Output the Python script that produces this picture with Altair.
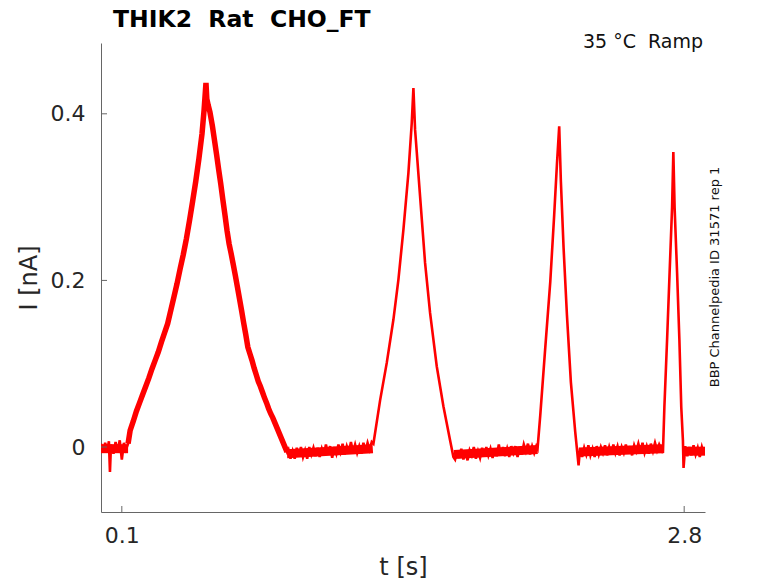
import altair as alt
import pandas as pd

# ---- trace (time in s, current in nA) ----
t_base1 = [0.0, 0.01, 0.02, 0.03, 0.038, 0.043, 0.048, 0.06, 0.07, 0.08, 0.09, 0.10, 0.11, 0.12, 0.13]
i_base1 = [0.004, -0.006, 0.005, -0.004, 0.007, -0.030, 0.003, -0.008, 0.006, -0.005, 0.008, -0.015, 0.005, -0.003, 0.004]

t_rise1 = [0.14, 0.155, 0.17, 0.185, 0.20, 0.215, 0.23, 0.245, 0.26, 0.275, 0.29, 0.305, 0.32, 0.335,
           0.35, 0.365, 0.38, 0.395, 0.41, 0.425, 0.44, 0.455, 0.47, 0.485, 0.495, 0.504]
i_rise1 = [0.020, 0.031, 0.043, 0.053, 0.063, 0.073, 0.083, 0.094, 0.104, 0.114, 0.126, 0.137, 0.148, 0.164,
           0.180, 0.196, 0.214, 0.231, 0.250, 0.272, 0.295, 0.319, 0.346, 0.376, 0.405, 0.437]

t_fall1 = [0.508, 0.515, 0.523, 0.535, 0.545, 0.555, 0.565, 0.575, 0.585, 0.595, 0.605, 0.615,
           0.625, 0.635, 0.645, 0.655, 0.665, 0.675, 0.685, 0.695, 0.705, 0.715, 0.725, 0.735, 0.745, 0.755,
           0.765, 0.775, 0.785, 0.795, 0.805, 0.815, 0.825, 0.835, 0.845, 0.855, 0.865, 0.875, 0.885, 0.893]
i_fall1 = [0.418, 0.410, 0.402, 0.385, 0.368, 0.351, 0.333, 0.316, 0.297, 0.279, 0.260, 0.244,
           0.232, 0.219, 0.206, 0.192, 0.178, 0.164, 0.149, 0.135, 0.120, 0.112, 0.104, 0.095, 0.087, 0.079,
           0.073, 0.066, 0.059, 0.053, 0.046, 0.040, 0.035, 0.029, 0.023, 0.017, 0.011, 0.005, -0.001, -0.006]

t_base2 = [round(0.90 + 0.01 * k, 3) for k in range(41)]
i_base2 = [-0.003, -0.014, -0.005, -0.014, -0.001, -0.011, 0.000, -0.012, -0.004, -0.014,
           0.000, -0.009, -0.001, -0.011, -0.001, -0.012, -0.002, -0.010, 0.003, -0.008,
           0.001, -0.013, 0.000, -0.008, 0.003, -0.006, 0.004, -0.009, 0.001, -0.007,
           0.006, -0.006, 0.003, -0.007, 0.001, -0.008, 0.005, -0.005, 0.005, -0.003, 0.006]

t_peak2 = [1.308, 1.340, 1.372, 1.404, 1.428, 1.452, 1.476, 1.492, 1.500,
           1.508, 1.532, 1.556, 1.580, 1.612, 1.644, 1.676, 1.692]
i_peak2 = [0.004, 0.056, 0.101, 0.153, 0.201, 0.261, 0.329, 0.389, 0.431,
           0.381, 0.301, 0.221, 0.161, 0.097, 0.049, 0.008, -0.012]

t_base3 = [round(1.70 + 0.01 * k, 3) for k in range(40)]
i_base3 = [-0.015, -0.004, -0.013, -0.002, -0.015, -0.005, -0.016, -0.004, -0.010, 0.000,
           -0.014, -0.005, -0.013, -0.001, -0.011, 0.000, -0.010, -0.002, -0.013, -0.002,
           -0.011, 0.003, -0.010, 0.000, -0.011, -0.002, -0.012, 0.001, -0.007, 0.001,
           -0.012, 0.000, -0.009, 0.003, -0.005, 0.004, -0.009, 0.001, -0.007, 0.001]

t_peak3 = [2.096, 2.109, 2.133, 2.157, 2.176, 2.189, 2.200, 2.208, 2.221, 2.237, 2.256, 2.277, 2.293]
i_peak3 = [-0.002, 0.038, 0.119, 0.198, 0.279, 0.339, 0.385, 0.319, 0.239, 0.159, 0.078, 0.018, -0.022]

t_base4 = [round(2.30 + 0.01 * k, 3) for k in range(39)]
i_base4 = [-0.002, -0.012, -0.001, -0.009, 0.002, -0.010, -0.002, -0.012, 0.001, -0.009,
           0.000, -0.007, 0.002, -0.010, 0.000, -0.009, 0.003, -0.007, 0.001, -0.010,
           0.000, -0.007, 0.003, -0.008, 0.001, -0.010, 0.002, -0.005, 0.004, -0.006,
           0.005, -0.007, 0.001, -0.008, 0.004, -0.005, 0.005, -0.004, 0.003]

t_peak4 = [2.698, 2.705, 2.718, 2.730, 2.742, 2.748, 2.754, 2.766, 2.777, 2.786, 2.794, 2.797]
i_peak4 = [-0.007, 0.048, 0.129, 0.209, 0.288, 0.354, 0.288, 0.209, 0.129, 0.048, 0.008, -0.025]

t_base5 = [round(2.805 + 0.01 * k, 3) for k in range(10)]
i_base5 = [0.001, -0.011, 0.000, -0.010, 0.002, -0.009, -0.001, -0.012, 0.000, -0.008]

# centre of the noisy baseline band (start / end of each flat stretch)
band_seg = [1, 1, 2, 2, 3, 3, 4, 4, 5, 5]
band_t = [0.0, 0.13, 0.893, 1.305, 1.695, 2.096, 2.295, 2.698, 2.797, 2.90]
band_i = [-0.002, -0.002, -0.008, -0.002, -0.009, -0.003, -0.006, -0.002, -0.005, -0.005]

x_ticks = [0.1, 2.8]
y_ticks = [0.0, 0.2, 0.4]
x_domain = [0.0, 2.9]
y_domain = [-0.078, 0.485]

title_text = "THIK2\u00a0 Rat\u00a0 CHO_FT"
cond_text = "35 °C\u00a0 Ramp"
side_text = "BBP Channelpedia ID 31571 rep 1"

t_all = t_base1 + t_rise1 + t_fall1 + t_base2 + t_peak2 + t_base3 + t_peak3 + t_base4 + t_peak4 + t_base5
i_all = i_base1 + i_rise1 + i_fall1 + i_base2 + i_peak2 + i_base3 + i_peak3 + i_base4 + i_peak4 + i_base5
df = pd.DataFrame({"t": t_all, "I": i_all, "order": list(range(len(t_all)))})
df_band = pd.DataFrame({"t": band_t, "I": band_i, "seg": band_seg})

W, H = 604, 469
FONT = "DejaVu Sans"
RED = "#ff0000"
GRAY = "#666666"

xs = alt.Scale(domain=x_domain, nice=False, zero=False)
ys = alt.Scale(domain=y_domain, nice=False, zero=False)

x_axis = alt.Axis(values=x_ticks, format=".1f", title="t [s]", ticks=False, grid=False,
                  labelFontSize=22, titleFontSize=24, labelPadding=13, titlePadding=9,
                  titleFontWeight="normal")
y_axis = alt.Axis(values=y_ticks, labelExpr="datum.value == 0 ? '0' : format(datum.value, '.1f')",
                  title="I [nA]", ticks=False, grid=False, labelFontSize=22, titleFontSize=24,
                  labelPadding=16, titlePadding=9, titleFontWeight="normal")

X = alt.X("t:Q", scale=xs, axis=x_axis)
Y = alt.Y("I:Q", scale=ys, axis=y_axis)

band = alt.Chart(df_band).mark_line(color=RED, strokeWidth=9, clip=True).encode(
    x=X, y=Y, detail="seg:N")
line = alt.Chart(df).mark_line(color=RED, strokeWidth=2.6, clip=True).encode(
    x=X, y=Y, order="order:Q")
thick = alt.Chart(df).transform_filter("datum.t >= 0.13 && datum.t <= 0.893").mark_line(
    color=RED, strokeWidth=5.5, clip=True).encode(x=X, y=Y, order="order:Q")

xt = alt.Chart(pd.DataFrame({"t": x_ticks})).mark_rule(color=GRAY, strokeWidth=1).encode(
    x=X, y=alt.value(H), y2=alt.value(H - 6))
yt = alt.Chart(pd.DataFrame({"I": y_ticks})).mark_rule(color=GRAY, strokeWidth=1).encode(
    y=Y, x=alt.value(0), x2=alt.value(6))

title = alt.Chart(pd.DataFrame({"label": [title_text]})).mark_text(
    font=FONT, fontSize=23.5, fontWeight="bold", align="left", baseline="alphabetic", color="black").encode(
    text="label:N", x=alt.value(12), y=alt.value(-16))
cond = alt.Chart(pd.DataFrame({"label": [cond_text]})).mark_text(
    font=FONT, fontSize=19, align="right", baseline="alphabetic", color="#111111").encode(
    text="label:N", x=alt.value(W - 2), y=alt.value(5))
side = alt.Chart(pd.DataFrame({"label": [side_text]})).mark_text(
    font=FONT, fontSize=13, align="center", baseline="middle", angle=270, color="#111111").encode(
    text="label:N", x=alt.value(W + 10), y=alt.value(234))

chart = alt.layer(band, line, thick, xt, yt, title, cond, side).properties(
    width=W, height=H,
    autosize=alt.AutoSizeParams(type="none"),
    padding={"left": 93, "top": 35, "right": 60, "bottom": 70},
).configure_view(stroke=None).configure_axis(
    labelFont=FONT, titleFont=FONT, labelColor="#262626", titleColor="#262626",
    domainColor=GRAY, domainWidth=1,
)

chart.save("out.html", embed_options={"renderer": "svg", "actions": False})
